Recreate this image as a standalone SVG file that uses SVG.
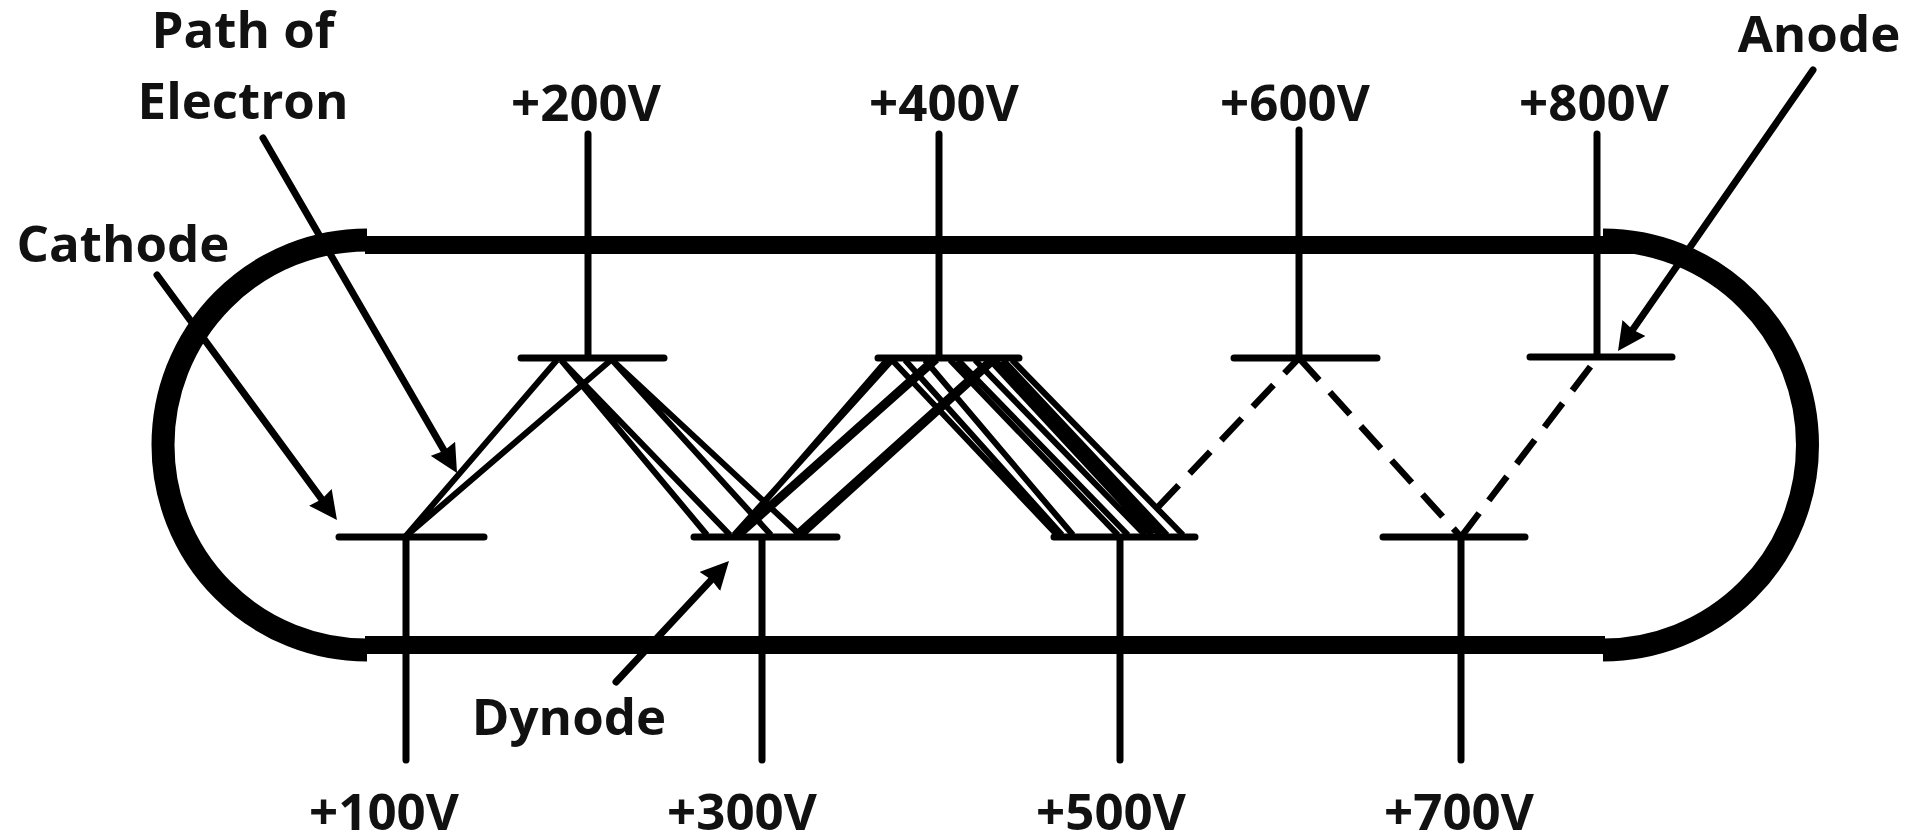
<svg xmlns="http://www.w3.org/2000/svg" width="1921" height="837" viewBox="0 0 1921 837">
<style>
text{font-family:"Open Sans","Noto Sans","Liberation Sans",sans-serif;font-weight:700;font-size:51px;fill:#111;text-anchor:middle}
.wall{fill:none;stroke:#000;stroke-width:18}
.arc{fill:none;stroke:#000;stroke-width:23}
.plate,.lead{stroke:#000;stroke-width:7;stroke-linecap:round;fill:none}
.e{stroke:#000;stroke-width:6;fill:none}
.d{stroke:#000;stroke-width:6.5;stroke-dasharray:30 16;fill:none}
.arrow{stroke:#000;stroke-width:7;stroke-linecap:round;fill:none;marker-end:url(#h)}
</style>
<defs><marker id="h" viewBox="0 0 10 10" refX="5.5" refY="5" markerWidth="28" markerHeight="28" markerUnits="userSpaceOnUse" orient="auto"><path d="M0,0L10,5L0,10L0.8,5Z" fill="#000"/></marker></defs>
<rect width="1921" height="837" fill="#fff"/>
<g id="tube">
<path class="wall" d="M365,245H1635M365,645H1605"/>
<path class="arc" d="M367,240A204,205 0 0 0 367,650"/>
<path class="arc" d="M1603,240A204.500,205 0 0 1 1603,650"/>
</g>
<g id="connectors">
<path class="e" d="M405,537L557,360M405,537L611,360"/>
<path class="e" d="M561,360L707,535M561,360L730,535M612,360L771,535M612,360L800,535"/>
<path class="e" d="M736,535L887,360M734,535L892,360M736,535L932,360M740,535L937,360M795,535L990,360M802,535L995,360"/>
<path class="e" d="M892,360L1057,535M905,360L1062,535M925,360L1073,535M950,360L1118,535M958,360L1128,535M975,360L1145,535M990,360L1152,535M995,360L1160,535M1003,360L1167,535M1012,360L1183,535"/>
<path class="d" d="M1158,507L1299,358"/>
<path class="d" d="M1299,358L1461,537"/>
<path class="d" d="M1461,537L1597,358"/>
<path class="arrow" d="M157,275L329.5,509.8"/>
<path class="arrow" d="M263,138L450.7,462.1"/>
<path class="arrow" d="M1813,70L1625.2,340.6"/>
<path class="arrow" d="M616,682L720.4,570.2"/>
</g>
<g id="d100"><path class="plate" d="M339,537H484M406,537V760"/><text x="384" y="830">+100V</text></g>
<g id="d200"><path class="plate" d="M521,358H664M588,358V134"/><text x="586" y="121">+200V</text></g>
<g id="d300"><path class="plate" d="M694,537H837M762,537V760"/><text x="742" y="830">+300V</text></g>
<g id="d400"><path class="plate" d="M878,358H1019M939,358V134"/><text x="944" y="121">+400V</text></g>
<g id="d500"><path class="plate" d="M1054,537H1195M1120,537V760"/><text x="1111" y="830">+500V</text></g>
<g id="d600"><path class="plate" d="M1234,358H1377M1299,358V130"/><text x="1295" y="121">+600V</text></g>
<g id="d700"><path class="plate" d="M1383,537H1525M1461,537V760"/><text x="1459" y="830">+700V</text></g>
<g id="d800"><path class="plate" d="M1530,357H1672M1597,357V134"/><text x="1594" y="121">+800V</text></g>
<g id="labels">
<text x="243" y="48">Path of</text>
<text x="243" y="119">Electron</text>
<text x="123" y="262">Cathode</text>
<text x="1819" y="52">Anode</text>
<text x="569" y="735">Dynode</text>
</g>
</svg>
